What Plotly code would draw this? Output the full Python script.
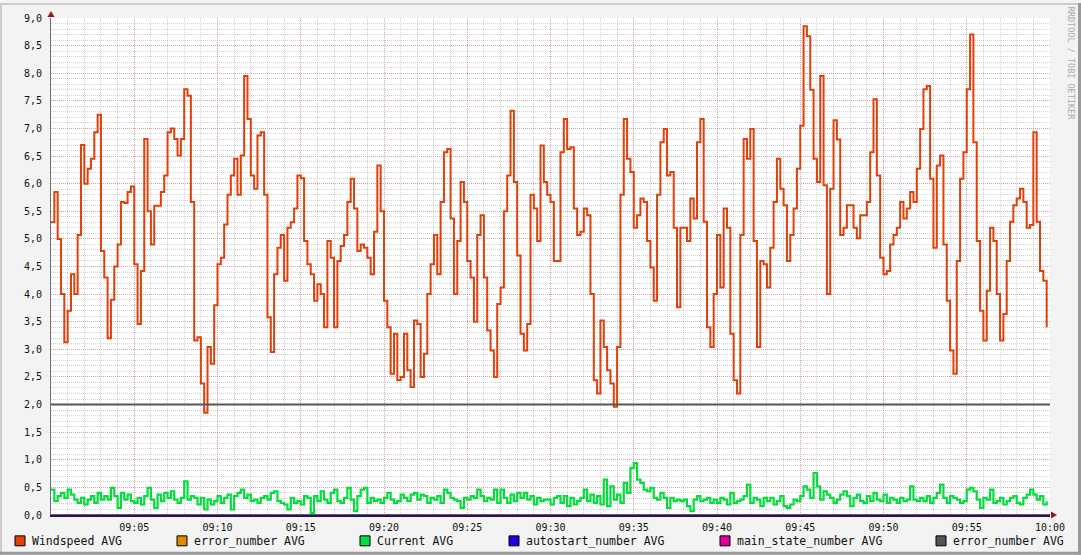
import pandas as pd
import plotly.graph_objects as go

# ---------------- data ----------------
times = pd.date_range("2024-01-01 09:00:00", periods=300, freq="12s")

windspeed = [
    5.3, 5.85, 5.0, 4.0, 3.13, 3.7, 4.36, 4.0, 5.07, 6.7,
    6.0, 6.27, 6.45, 6.93, 7.25, 4.78, 4.3, 3.2, 3.9, 4.5,
    4.9, 5.67, 5.65, 5.85, 5.95, 4.54, 3.46, 4.42, 6.81, 5.5,
    4.9, 5.6, 5.6, 5.85, 6.15, 6.93, 7.0, 6.81, 6.51, 6.81,
    7.71, 7.59, 5.67, 3.16, 3.22, 2.38, 1.85, 3.04, 2.74, 3.8,
    4.54, 4.66, 5.26, 5.8, 6.15, 6.45, 5.8, 6.51, 7.95, 7.17,
    6.15, 5.91, 6.87, 6.93, 5.8, 3.58, 2.95, 4.36, 4.84, 5.07,
    4.24, 5.2, 5.3, 5.55, 6.15,
    6.1, 4.96, 4.54, 4.36, 3.88, 4.18, 4.0, 3.4, 4.96, 4.66,
    3.4, 4.6, 4.87, 5.07, 5.67, 6.09, 5.55, 4.78, 4.9, 4.84,
    4.66, 4.36, 5.13, 6.33, 5.5, 3.88, 3.4, 2.56, 3.28, 2.44,
    2.5, 3.28, 2.62, 2.32, 3.52, 3.46, 2.5, 2.92, 4.0, 4.54,
    5.07, 4.36, 5.67, 6.57, 6.63, 5.37, 4.0, 4.96, 6.03, 5.67,
    4.6, 4.3, 3.5, 5.07, 5.43, 4.3, 3.34, 2.98, 2.5, 3.82,
    4.12, 5.5, 6.15, 7.32, 6.03, 4.7, 3.28, 2.98, 3.46, 5.8,
    5.55, 4.96, 6.69, 6.03, 5.8,
    5.67, 4.6, 4.6, 6.57, 7.17, 6.63, 6.66, 5.55, 5.07, 5.13,
    5.55, 5.43, 4.0, 2.44, 2.2, 3.52, 3.04, 2.62, 2.38, 1.96,
    3.04, 5.8, 7.17, 6.45, 6.21, 5.2, 5.43, 5.73, 5.67, 4.96,
    4.48, 3.88, 5.8, 6.75, 6.99, 6.15, 6.21, 5.2, 3.76, 5.2,
    5.2, 4.96, 5.73, 5.37, 6.75, 7.17, 5.31, 3.4, 3.04, 4.0,
    5.07, 4.12, 5.55, 5.2, 3.28, 2.44, 2.2, 5.07, 6.81, 6.45,
    6.99, 4.96, 3.04, 4.6, 4.54, 4.12, 4.84, 5.67, 6.45, 5.91,
    5.61, 4.6, 5.07, 5.55, 6.27,
    7.05, 8.85, 8.67, 7.7, 6.45, 6.03, 7.95, 5.97, 4.0, 5.91,
    7.15, 6.8, 5.07, 5.2, 5.61, 5.61, 5.2, 5.01, 5.43, 5.43,
    5.67, 6.57, 7.53, 6.15, 4.66, 4.36, 4.42, 4.9, 5.07, 5.2,
    5.67, 5.37, 5.55, 5.85, 5.67, 6.27, 6.99, 7.71, 7.77, 6.09,
    4.84, 6.33, 6.51, 4.9, 3.88, 2.98, 2.56, 4.6, 6.09, 6.57,
    7.71, 8.7, 6.75, 4.96, 3.7, 3.16, 4.06, 5.2, 4.96, 4.0,
    3.16, 3.64, 4.6, 5.31, 5.61, 5.73, 5.91, 5.67, 5.2, 5.25,
    6.93, 5.31, 4.42, 4.24, 3.4,
]

current = [
    0.46, 0.25, 0.34, 0.40, 0.31, 0.46, 0.37, 0.28, 0.22, 0.31,
    0.19, 0.28, 0.34, 0.22, 0.40, 0.28, 0.34, 0.28, 0.49, 0.34,
    0.13, 0.40, 0.28, 0.37, 0.25, 0.22, 0.31, 0.19, 0.34, 0.49,
    0.28, 0.13, 0.37, 0.25, 0.40, 0.31, 0.43, 0.28, 0.22, 0.31,
    0.61, 0.28, 0.34, 0.31, 0.19, 0.31, 0.10, 0.28, 0.19, 0.25,
    0.34, 0.22, 0.31, 0.37, 0.10, 0.34, 0.40, 0.46, 0.31, 0.37,
    0.25, 0.28, 0.22, 0.31, 0.34, 0.28, 0.40, 0.43, 0.25, 0.22,
    0.19, 0.10, 0.31, 0.22, 0.25, 0.19, 0.34, 0.31, 0.04, 0.34,
    0.25, 0.43, 0.28, 0.22, 0.40, 0.46, 0.25, 0.22, 0.31, 0.49,
    0.28, 0.07, 0.34, 0.46, 0.49, 0.22, 0.31, 0.25, 0.28, 0.22,
    0.31, 0.40, 0.28, 0.22, 0.25, 0.37, 0.31, 0.25, 0.37, 0.40,
    0.28, 0.37, 0.34, 0.22, 0.31, 0.28, 0.34, 0.22, 0.46, 0.40,
    0.31, 0.28, 0.25, 0.13, 0.31, 0.28, 0.34, 0.31, 0.46, 0.34,
    0.25, 0.31, 0.28, 0.46, 0.22, 0.46, 0.31, 0.22, 0.37, 0.25,
    0.40, 0.31, 0.40, 0.28, 0.34, 0.19, 0.31, 0.25, 0.28, 0.28,
    0.19, 0.31, 0.34,
    0.22, 0.34, 0.16, 0.31, 0.19, 0.25, 0.31, 0.46, 0.25, 0.37,
    0.22, 0.34, 0.19, 0.64, 0.16, 0.52, 0.28, 0.37, 0.22, 0.58,
    0.40, 0.85, 0.94, 0.64, 0.58, 0.46, 0.43, 0.49, 0.31, 0.28,
    0.40, 0.31, 0.13, 0.31, 0.25, 0.28, 0.25, 0.28, 0.16, 0.07,
    0.28, 0.34, 0.25, 0.28, 0.31, 0.22, 0.28, 0.22, 0.31, 0.28,
    0.19, 0.40, 0.22, 0.25, 0.28, 0.34, 0.55, 0.22, 0.31, 0.28,
    0.16, 0.31, 0.25, 0.31, 0.19, 0.25, 0.34, 0.16, 0.13, 0.19,
    0.28, 0.25, 0.34, 0.52, 0.46, 0.31, 0.76, 0.52, 0.28, 0.43,
    0.37, 0.31, 0.22, 0.28, 0.37, 0.43, 0.34, 0.16, 0.31, 0.37,
    0.25, 0.22, 0.34, 0.25, 0.40, 0.28, 0.25, 0.37, 0.22, 0.31,
    0.28, 0.22, 0.31, 0.25, 0.28, 0.52, 0.28, 0.25, 0.31, 0.25,
    0.34, 0.22, 0.31, 0.40, 0.55, 0.31, 0.22, 0.34, 0.31, 0.28,
    0.22, 0.25, 0.46, 0.49, 0.43, 0.28, 0.13, 0.31, 0.28, 0.46,
    0.22, 0.25, 0.31, 0.19, 0.25, 0.31, 0.34, 0.22, 0.19, 0.31,
    0.37, 0.46, 0.37, 0.28, 0.34, 0.19, 0.25,
]

span_times = ["2024-01-01 09:00:00", "2024-01-01 10:00:00"]
error_number = [0.0, 0.0]
autostart_number = [0.0, 0.0]
main_state_number = [0.0, 0.0]
error_number_2 = [2.0, 2.0]

legend_labels = ["Windspeed AVG", "error_number AVG", "Current AVG",
                 "autostart_number AVG", "main_state_number AVG", "error_number AVG"]
legend_colors = ["#E0400A", "#E08A00", "#00E040", "#2000E0", "#E000A0", "#555555"]

x_tick_labels = ["09:05", "09:10", "09:15", "09:20", "09:25", "09:30",
                 "09:35", "09:40", "09:45", "09:50", "09:55", "10:00"]
y_tick_values = [0.0, 0.5, 1.0, 1.5, 2.0, 2.5, 3.0, 3.5, 4.0, 4.5,
                 5.0, 5.5, 6.0, 6.5, 7.0, 7.5, 8.0, 8.5, 9.0]
y_tick_labels = [f"{v:.1f}".replace(".", ",") for v in y_tick_values]

# ---------------- figure ----------------
W, H = 1081, 555
L, R, T, B = 51, 1050, 15, 515


def px(xp):
    return (xp - L) / (R - L)


def py(yp):
    return (B - yp) / (B - T)


fig = go.Figure()
fig.add_trace(go.Scatter(x=span_times, y=main_state_number, mode="lines",
                         line=dict(color=legend_colors[4], width=1), showlegend=False))
fig.add_trace(go.Scatter(x=span_times, y=error_number, mode="lines",
                         line=dict(color=legend_colors[1], width=1), showlegend=False))
fig.add_trace(go.Scatter(x=span_times, y=autostart_number, mode="lines",
                         line=dict(color="#1E1660", width=1), showlegend=False))
fig.add_trace(go.Scatter(x=times, y=current, mode="lines", line_shape="hv",
                         line=dict(color="#05DD3C", width=2.2), showlegend=False))
fig.add_trace(go.Scatter(x=times, y=windspeed, mode="lines", line_shape="hv",
                         line=dict(color="#E0400A", width=2), showlegend=False))
fig.add_trace(go.Scatter(x=span_times, y=error_number_2, mode="lines",
                         line=dict(color="#555555", width=2), showlegend=False))

tick_times = [f"2024-01-01 {t}:00" for t in x_tick_labels]

mono = "DejaVu Sans Mono"
fig.update_layout(
    width=W, height=H, autosize=False,
    margin=dict(l=L, r=W - R, t=T, b=H - B, pad=0),
    paper_bgcolor="#F3F3F3", plot_bgcolor="#FFFFFF",
    showlegend=False,
    xaxis=dict(
        type="date", range=["2024-01-01 09:00:00", "2024-01-01 10:00:00"],
        tickvals=tick_times, ticktext=x_tick_labels,
        tickfont=dict(family=mono, size=10, color="#111111"),
        ticks="", ticklabelstandoff=2,
        showgrid=True, gridcolor="rgba(222,48,52,0.28)", griddash="1px,1px", gridwidth=1,
        minor=dict(dtick=60000, tick0="2024-01-01 09:00:00", showgrid=True,
                   gridcolor="rgba(143,143,143,0.4)", griddash="1px,1px", gridwidth=1),
        showline=True, linecolor="#1E1660", linewidth=2, zeroline=False,
        fixedrange=True,
    ),
    yaxis=dict(
        range=[0, 9], tickvals=y_tick_values, ticktext=y_tick_labels,
        tickfont=dict(family=mono, size=10, color="#111111"),
        ticks="", ticklabelstandoff=6,
        showgrid=True, gridcolor="rgba(222,48,52,0.28)", griddash="1px,1px", gridwidth=1,
        minor=dict(dtick=0.1, showgrid=True,
                   gridcolor="rgba(143,143,143,0.4)", griddash="1px,1px", gridwidth=1),
        showline=True, linecolor="#707070", linewidth=1, zeroline=False,
        fixedrange=True,
    ),
)

shapes = []
annotations = []
# frame borders
shapes.append(dict(type="rect", xref="paper", yref="paper", x0=px(0), x1=px(W), y0=py(0), y1=py(2),
                   fillcolor="#CBCBCB", line=dict(width=0), layer="above"))
shapes.append(dict(type="rect", xref="paper", yref="paper", x0=px(0), x1=px(2), y0=py(0), y1=py(H),
                   fillcolor="#CBCBCB", line=dict(width=0), layer="above"))
shapes.append(dict(type="rect", xref="paper", yref="paper", x0=px(W - 3), x1=px(W), y0=py(0), y1=py(H),
                   fillcolor="#999999", line=dict(width=0), layer="above"))
shapes.append(dict(type="rect", xref="paper", yref="paper", x0=px(0), x1=px(W), y0=py(H - 3), y1=py(H),
                   fillcolor="#999999", line=dict(width=0), layer="above"))

# axis arrows
shapes.append(dict(type="path", xref="paper", yref="paper",
                   path=f"M {px(47.5)} {py(14)} L {px(54.5)} {py(14)} L {px(51)} {py(8)} Z",
                   fillcolor="#8E1B1B", line=dict(width=0), layer="above"))
shapes.append(dict(type="path", xref="paper", yref="paper",
                   path=f"M {px(1051)} {py(511.5)} L {px(1051)} {py(518.5)} L {px(1057)} {py(515)} Z",
                   fillcolor="#8E1B1B", line=dict(width=0), layer="above"))

# legend
legend_box_x = [15, 177, 360, 509, 720, 936]
for xb, lab, col in zip(legend_box_x, legend_labels, legend_colors):
    shapes.append(dict(type="rect", xref="paper", yref="paper",
                       x0=px(xb), x1=px(xb + 10), y0=py(536), y1=py(546),
                       fillcolor=col, line=dict(color="#000000", width=1), layer="above"))
    annotations.append(dict(xref="paper", yref="paper", x=px(xb + 14.5), y=py(541.5),
                            text=lab, showarrow=False, xanchor="left", yanchor="middle",
                            font=dict(family=mono, size=11.5, color="#111111")))

annotations.append(dict(xref="paper", yref="paper", x=px(1071), y=py(60),
                        text="RRDTOOL / TOBI OETIKER", showarrow=False, textangle=90,
                        xanchor="center", yanchor="middle",
                        font=dict(family=mono, size=8.5, color="#AAAAAA")))

fig.update_layout(shapes=shapes, annotations=annotations)
fig.write_html("out.html", config={"displayModeBar": False},
               post_script="document.body.style.margin='0px';document.body.style.padding='0px';")
